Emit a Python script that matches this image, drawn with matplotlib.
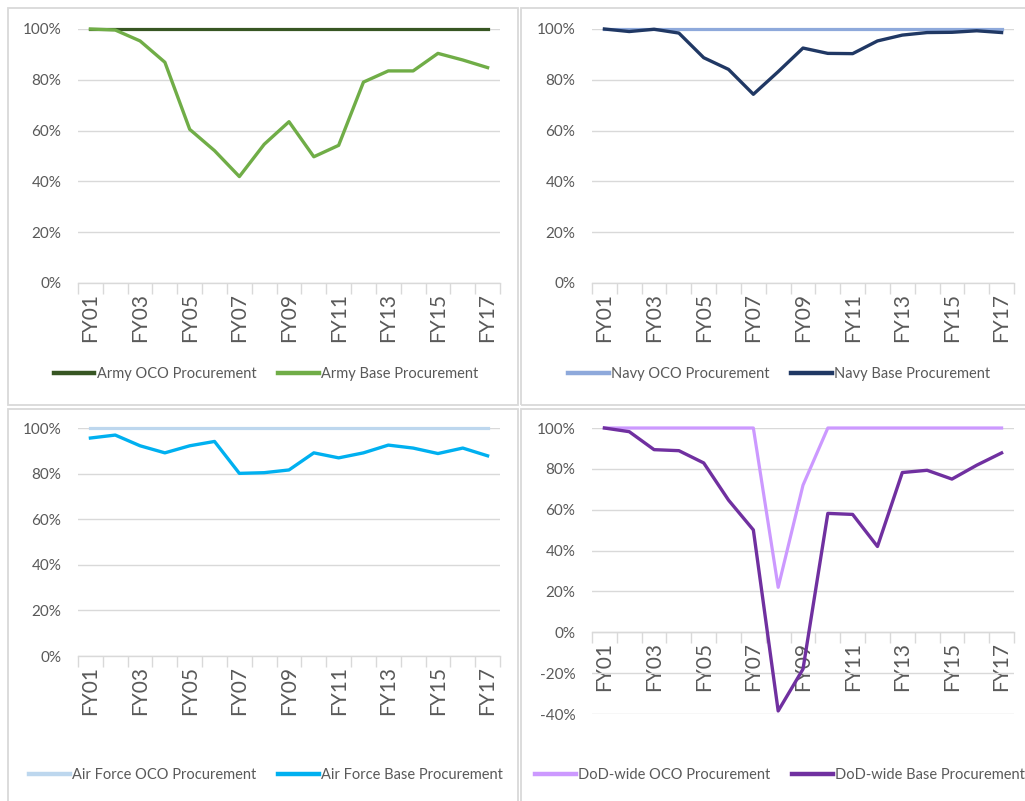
import matplotlib
matplotlib.use("Agg")
import matplotlib.pyplot as plt
from matplotlib.patches import Rectangle
from matplotlib.ticker import PercentFormatter, FixedLocator

# ---------------- data ----------------
years = ["FY01", "FY02", "FY03", "FY04", "FY05", "FY06", "FY07", "FY08", "FY09",
         "FY10", "FY11", "FY12", "FY13", "FY14", "FY15", "FY16", "FY17"]

army_oco = [1.00, 1.00, 1.00, 1.00, 1.00, 1.00, 1.00, 1.00, 1.00,
            1.00, 1.00, 1.00, 1.00, 1.00, 1.00, 1.00, 1.00]
army_base = [1.00, 0.996, 0.953, 0.869, 0.605, 0.521, 0.419, 0.546, 0.635,
             0.497, 0.542, 0.791, 0.835, 0.835, 0.904, 0.878, 0.848]

navy_oco = [1.00, 1.00, 1.00, 1.00, 1.00, 1.00, 1.00, 1.00, 1.00,
            1.00, 1.00, 1.00, 1.00, 1.00, 1.00, 1.00, 1.00]
navy_base = [1.00, 0.990, 0.999, 0.984, 0.887, 0.841, 0.743, 0.832, 0.925,
             0.904, 0.903, 0.953, 0.976, 0.986, 0.987, 0.993, 0.986]

af_oco = [1.00, 1.00, 1.00, 1.00, 1.00, 1.00, 1.00, 1.00, 1.00,
          1.00, 1.00, 1.00, 1.00, 1.00, 1.00, 1.00, 1.00]
af_base = [0.956, 0.969, 0.922, 0.891, 0.922, 0.941, 0.801, 0.804, 0.816,
           0.891, 0.869, 0.891, 0.925, 0.912, 0.888, 0.912, 0.878]

dod_oco = [1.00, 1.00, 1.00, 1.00, 1.00, 1.00, 1.00, 0.22, 0.72,
           1.00, 1.00, 1.00, 1.00, 1.00, 1.00, 1.00, 1.00]
dod_base = [1.00, 0.982, 0.894, 0.889, 0.829, 0.647, 0.501, -0.385, -0.18,
            0.582, 0.577, 0.420, 0.782, 0.793, 0.750, 0.818, 0.878]

names = [("Army OCO Procurement", "Army Base Procurement"),
         ("Navy OCO Procurement", "Navy Base Procurement"),
         ("Air Force OCO Procurement", "Air Force Base Procurement"),
         ("DoD-wide OCO Procurement", "DoD-wide Base Procurement")]

# ---------------- style ----------------
plt.rcParams['axes.unicode_minus'] = False
plt.rcParams['font.family'] = ['Lato', 'DejaVu Sans']

W, H = 1025, 801
GREY = '#D9D9D9'
TXT = '#595959'

fig = plt.figure(figsize=(W / 100, H / 100), dpi=100)
fig.patch.set_facecolor('white')


def fx(x):
    return x / W


def fy(y):
    return 1 - y / H


def px_axes(l, t, r, b):
    return fig.add_axes([fx(l), fy(b), (r - l) / W, (b - t) / H])


panels = [
    dict(box=(8, 8, 518, 405), ax=(78, 29, 500, 283), oco=army_oco, base=army_base,
         colors=('#375623', '#70AD47'), names=names[0], ylim=(0, 1.0), leg=(266, 374)),
    dict(box=(521, 8, 1030, 405), ax=(592, 29, 1014, 283), oco=navy_oco, base=navy_base,
         colors=('#8EA9DB', '#203864'), names=names[1], ylim=(0, 1.0), leg=(779, 374)),
    dict(box=(8, 409, 518, 806), ax=(78, 428, 500, 656), oco=af_oco, base=af_base,
         colors=('#BDD7EE', '#00B0F0'), names=names[2], ylim=(0, 1.0), leg=(266, 775)),
    dict(box=(521, 409, 1030, 806), ax=(592, 428, 1014, 714), oco=dod_oco, base=dod_base,
         colors=('#CC99FF', '#7030A0'), names=names[3], ylim=(-0.4, 1.0), leg=(780, 775)),
]

for p in panels:
    l, t, r, b = p['box']
    fig.patches.append(Rectangle((fx(l), fy(b)), (r - l) / W, (b - t) / H,
                                 transform=fig.transFigure, fill=False,
                                 edgecolor=GREY, lw=1.3, zorder=0))

    ax = px_axes(*p['ax'])
    ax.set_facecolor('none')
    lo, hi = p['ylim']

    for s in ('left', 'right', 'top'):
        ax.spines[s].set_visible(False)
    if lo < 0:
        ax.spines['bottom'].set_position(('data', 0))
    ax.spines['bottom'].set_color(GREY)
    ax.spines['bottom'].set_linewidth(1.0)
    ax.spines['bottom'].set_zorder(2)

    x = list(range(len(years)))
    h1, = ax.plot(x, p['oco'], color=p['colors'][0], lw=2.3, clip_on=False,
                  solid_joinstyle='round', zorder=3)
    h2, = ax.plot(x, p['base'], color=p['colors'][1], lw=2.4, clip_on=False,
                  solid_joinstyle='round', zorder=4)
    h1.set_label(p['names'][0])
    h2.set_label(p['names'][1])

    ax.set_ylim(lo, hi)
    ax.set_xlim(-0.5, len(years) - 0.5)
    yt = [round(lo + 0.2 * i, 2) for i in range(int(round((hi - lo) / 0.2)) + 1)]
    ax.yaxis.set_major_locator(FixedLocator(yt))
    ax.yaxis.set_major_formatter(PercentFormatter(1.0, decimals=0))
    ax.yaxis.grid(True, color=GREY, lw=1.0, zorder=1)
    ax.set_axisbelow(True)

    ax.set_xticks(x[::2])
    ax.set_xticklabels(years[::2], rotation=90, fontsize=15, color=TXT, va='top')
    ax.set_xticks([i - 0.5 for i in range(len(years) + 1)], minor=True)
    ax.tick_params(axis='x', which='major', length=0, pad=7)
    ax.tick_params(axis='x', which='minor', length=8, color=GREY, width=1.0, direction='out')
    ax.tick_params(axis='y', length=0, pad=12, labelsize=11, labelcolor=TXT)

    cx, cy = p['leg']
    fig.legend(handles=[h1, h2], loc='center', bbox_to_anchor=(fx(cx), fy(cy)),
               bbox_transform=fig.transFigure, ncol=2, frameon=False,
               handlelength=2.8, handletextpad=0.15, columnspacing=1.5,
               fontsize=10.5, labelcolor=TXT)
    for hl in fig.legends[-1].get_lines():
        hl.set_linewidth(3.2)

fig.savefig('out.png', dpi=100, facecolor='white')
